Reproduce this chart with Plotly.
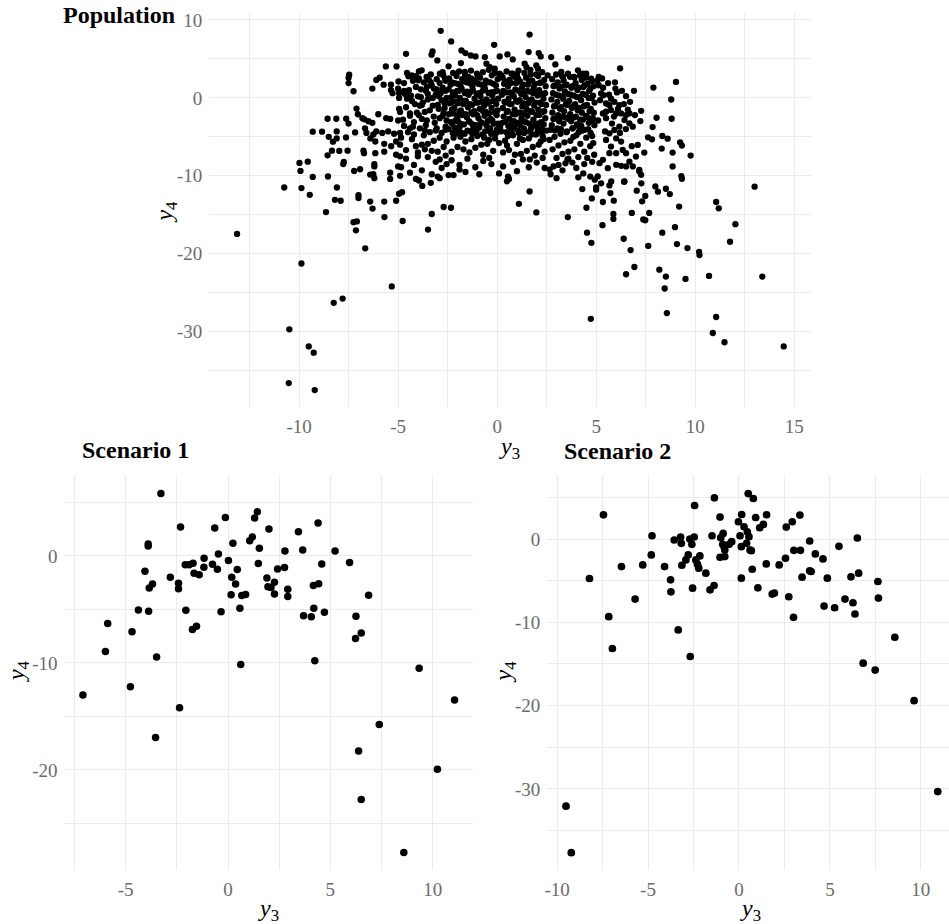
import plotly.graph_objects as go

# ---------------- Population (y3, y4) ----------------
pop_y3 = [
    -13.13, -10.75, -9.98, -9.56, -9.93, -9.31, -9.88, -9.46, -9.31, -8.84,
    -8.56, -8.12, -8.54, -8.56, -8.64, -8.19, -7.9, -8.09, -8.34, -7.97,
    -8.29, -8.1, -8.1, -8.5, -9.88, -10.49, -9.51, -9.26, -10.52, -9.21,
    -8.25, -7.8, -5.32, -6.66, -7.13, -7.25, -7.08, -6.29, -5.69, -4.77,
    -3.49, -3.3, -2.7, -2.33, -6.41, -5.7, -5.1, -7.0, -7.0, -7.47,
    -7.5, -7.5, -6.1, -5.93, -4.98, -5.73, -5.36, -6.3, -7.25, -5.36,
    -5.28, -4.95, -5.0, -4.95, -7.1, -4.95, -4.9, -7.03, -6.0, -7.62,
    -6.8, -6.7, -6.5, -6.3, -5.6, -5.4, -5.0, -7.5, -7.17, -6.67,
    -6.6, -6.25, -6.1, -5.8, -5.5, -5.2, -4.9, -7.63, -6.4, -6.15,
    -5.7, -5.35, -5.1, -4.9, -7.55, -6.75, -6.72, -6.15, -5.7, -5.1,
    -4.9, -7.74, -7.77, -6.2, -6.2, -7.22, -6.92, -5.0, -4.85, -6.41,
    -6.25, -6.2, -5.4, -5.4, -4.9, -4.95, -5.62, -5.08, -4.6, -2.85,
    -2.32, -3.26, -3.31, -3.02, -1.8, -1.6, -1.33, -1.09, -0.62, -0.15,
    0.13, 0.52, 0.79, 1.64, 1.59, 2.1, 2.2, 2.73, 2.94, 3.57,
    -2.45, -3.81, -4.48, -4.31, -1.83, -0.54, -0.37, -0.12, 1.39, 1.48,
    1.98, 2.06, 3.24, 3.32, 4.08, 4.33, 4.5, 4.75, -2.72, -2.63,
    -2.89, -3.56, -3.98, -0.96, 0.22, 0.72, 1.06, -1.63, -1.29, -3.78,
    -3.35, -3.0, -2.9, -4.8, -4.1, -3.95, -2.45, -2.2, -1.9, -0.29,
    0.55, 0.6, 0.5, 1.1, 1.64, 1.98, 3.57, 4.51, 4.54, 4.3,
    4.35, 4.7, 4.93, 4.78, 5.0, 1.6, 1.65, 0.8, 2.4, 2.65,
    2.85, 3.1, 3.45, 3.6, 4.73, 4.76, 6.21, 7.89, 9.03, 8.79,
    8.81, 8.05, 7.85, 6.91, 6.51, 6.71, 7.27, 7.23, 6.96, 7.62,
    7.82, 8.34, 8.61, 8.31, 8.86, 9.24, 9.33, 9.77, 8.86, 9.3,
    9.33, 13.0, 11.06, 11.19, 7.32, 7.48, 7.05, 7.99, 8.12, 8.52,
    8.72, 7.28, 6.41, 5.72, 5.25, 5.67, 5.34, 5.89, 6.8, 7.68,
    7.38, 7.48, 5.87, 5.87, 5.32, 6.39, 6.74, 7.63, 8.34, 8.98,
    9.19, 9.08, 9.61, 6.93, 6.51, 8.19, 8.52, 8.46, 8.57, 9.51,
    10.7, 10.2, 10.22, 11.76, 12.03, 13.39, 11.06, 10.89, 11.48, 14.47,
    5.13, 5.13, 5.25, 5.37, 5.5, 5.67, 5.92, 6.17, 5.75, 5.5,
    5.34, 6.01, 6.26, 6.51, 6.68, 6.43, 6.68, 6.85, 6.17, 5.92,
    5.67, 5.5, 6.01, 6.26, 5.75, 6.01, 6.34, 6.51, 5.67, 5.34,
    5.17, 6.01, 6.26, 6.51, 6.85, 7.01, 7.18, 7.27, 6.68, 5.59,
    5.76, 6.43, 5.08, 5.0, 5.97, 7.1, 7.43, 7.18, 6.8,
    -4.7, -4.5, -4.3, -4.6, -4.4, -4.1, -4.0, -3.9, -3.8, -3.7,
    -3.6, -3.5, -3.4, -3.3, -3.2, -3.1, -3.0, -2.9, -2.8, -2.7,
    -2.6, -2.55, -4.2, -3.95, -3.45, -3.05, -2.75, -4.55, -3.75, -3.25,
    -2.95, -2.65, -4.05, -3.55, -3.15, -4.75, -4.35, -3.85, -2.85, -2.6,
    -4.7, -4.5, -4.3, -4.1, -3.9, -3.7, -3.5, -3.3, -3.1, -2.9,
    -2.7, -2.6, -4.6, -4.0, -3.6, -3.2, -2.8, -4.4, -3.8, -3.0,
    -4.2, -2.55, -3.4, -4.85, -3.65,
    -4.6, -4.2, -3.8, -3.5, -3.1, -2.8, -2.6, -4.4, -3.3, -2.9,
    -4.0, -2.55,
    -2.42, -2.35, -2.45, -2.31, -2.4, -2.28, -2.44, -2.33,
    -2.05, -2.14, -2.02, -2.12, -2.08, -2.16, -2.0, -2.1,
    -1.76, -1.85, -1.79, -1.88, -1.72, -1.83, -1.77, -1.86,
    -1.45, -1.55, -1.52, -1.44, -1.58, -1.47, -1.53, -1.42,
    -1.18, -1.25, -1.22, -1.14, -1.27, -1.16, -1.21, -1.24,
    -0.86, -0.95, -0.92, -0.84, -0.97, -0.88, -0.94, -0.83,
    -0.57, -0.64, -0.61, -0.55, -0.66, -0.58, -0.63, -0.54,
    -0.27, -0.35, -0.31, -0.25, -0.36, -0.28, -0.33, -0.24,
    0.03, -0.06, 0.0, 0.05, -0.04, 0.02, -0.02, 0.04,
    -2.45, -2.2, -2.0, -1.8, -1.6, -1.4, -1.2, -1.0, -0.8, -0.6,
    -0.4, -0.2, 0.0, -2.3, -1.9, -1.5, -1.1, -0.7, -0.3, -2.1,
    -1.3, -0.5, -0.1, -1.7, -0.9,
    -2.3, -1.9, -1.5, -1.1, -0.7, -0.4, -1.6, -0.9,
    0.28, 0.35, 0.31, 0.24, 0.37, 0.29, 0.33, 0.26,
    0.62, 0.55, 0.66, 0.58, 0.64, 0.54, 0.61, 0.57,
    0.87, 0.95, 0.92, 0.84, 0.96, 0.88, 0.93, 0.85,
    1.16, 1.25, 1.22, 1.14, 1.27, 1.18, 1.23, 1.15,
    1.46, 1.55, 1.52, 1.44, 1.57, 1.48, 1.53, 1.45,
    1.77, 1.85, 1.82, 1.74, 1.87, 1.78, 1.83, 1.75,
    2.07, 2.15, 2.12, 2.04, 2.17, 2.08, 2.13, 2.05,
    2.38, 2.45, 2.42, 2.34, 2.47, 2.38, 2.43, 2.35,
    0.12, 0.15, 1.0, 1.7, 2.55, 0.75, 1.35, 2.25,
    0.2, 0.4, 0.6, 0.8, 1.0, 1.2, 1.4, 1.6, 1.8, 2.0,
    2.2, 2.4, 2.5, 0.3, 0.7, 1.1, 1.5, 1.9, 2.3, 0.5,
    0.9, 1.3, 1.7, 2.1, 0.1,
    0.3, 1.0, 1.3, 2.0, 2.3, 0.1,
    2.78, 2.85, 2.82, 2.74, 2.87, 2.79, 2.84, 2.76,
    3.06, 3.15, 3.12, 3.04, 3.17, 3.08, 3.13,
    3.36, 3.45, 3.42, 3.34, 3.47, 3.38, 3.43, 3.35,
    3.68, 3.75, 3.72, 3.64, 3.77, 3.69, 3.74,
    3.96, 4.05, 4.02, 3.94, 4.07, 3.98, 4.03,
    4.27, 4.35, 4.32, 4.24, 4.37, 4.28, 4.33, 4.25,
    4.56, 4.65, 4.62, 4.54, 4.67, 4.58, 4.63,
    4.87, 4.84, 4.92, 4.88, 4.83, 4.91, 3.9, 4.45,
    2.7, 2.9, 3.1, 3.3, 3.5, 3.7, 3.9, 4.1, 4.3, 4.5,
    4.7, 4.9, 2.8, 3.0, 3.2, 3.4, 3.6, 3.8, 4.0, 4.2,
    4.4, 4.6, 4.8, 2.65, 3.05, 3.55, 4.15, 4.55, 4.85, 3.85,
    2.7, 3.3, 3.8, 4.0, 4.4, 4.8, 3.0, 4.1,
    -2.22, -2.29, -2.23, -2.27, -2.21, -2.28, -2.24,
    -1.92, -1.99, -1.93, -1.97, -1.91, -1.98, -1.94,
    -1.62, -1.69, -1.63, -1.67, -1.61, -1.68, -1.64,
    -1.32, -1.39, -1.33, -1.37, -1.31, -1.38, -1.34,
    -1.02, -1.09, -1.03, -1.07, -1.01, -1.08, -1.04,
    -0.72, -0.79, -0.73, -0.77, -0.71, -0.78, -0.74,
    -0.42, -0.49, -0.43, -0.47, -0.41, -0.48, -0.44,
    -0.12, -0.19, -0.13, -0.17, -0.11, -0.18, -0.14,
    0.48, 0.41, 0.47, 0.43, 0.49, 0.42, 0.46,
    0.78, 0.71, 0.77, 0.73, 0.79, 0.72, 0.76,
    1.08, 1.01, 1.07, 1.03, 1.09, 1.02, 1.06,
    1.38, 1.31, 1.37, 1.33, 1.39, 1.32, 1.36,
    1.68, 1.61, 1.67, 1.63, 1.69, 1.62, 1.66,
    1.98, 1.91, 1.97, 1.93, 1.99, 1.92, 1.96,
    2.28, 2.21, 2.27, 2.23, 2.29, 2.22, 2.26,
    2.98, 2.91, 2.97, 2.93, 2.99, 2.92,
    3.28, 3.21, 3.27, 3.23, 3.29, 3.22,
    3.58, 3.51, 3.57, 3.53, 3.59, 3.52,
    3.88, 3.81, 3.87, 3.83, 3.89, 3.82,
    4.18, 4.11, 4.17, 4.13, 4.19, 4.12,
    4.48, 4.41, 4.47, 4.43, 4.49, 4.42,
    4.78, 4.71, 4.77, 4.73, 4.79, 4.72,
    -4.45, -4.15, -3.85, -3.55, -3.25, -2.95, -2.65, -4.25, -3.65, -3.35,
    -3.05, -2.75, -4.65, -3.95, -2.55,
    -1.85, -1.25, -0.65, -0.05, 0.55, 1.15, 1.75, 2.35, -2.15, -0.35,
    0.85, 2.05,
    -4.55, -4.25, -3.95, -3.65, -3.35, -3.05, -2.75, -4.4, -3.8, -3.2,
    -2.6, -4.1, -3.5, -2.9, -4.7,
    5.05, 5.2, 5.35, 5.5, 5.65, 5.8, 5.95, 6.1, 6.3, 6.5,
    5.1, 5.3, 5.45, 5.6, 5.75, 5.9, 6.05, 6.2, 6.4, 6.6,
]
pop_y4 = [
    -17.46, -11.5, -8.35, -8.18, -9.37, -10.14, -11.58, -12.44, -4.34, -4.34,
    -2.68, -2.68, -10.09, -7.37, -14.65, -13.08, -13.2, -11.5, -6.77, -6.81,
    -5.62, -5.2, -4.3, -5.0, -21.25, -29.7, -31.9, -32.7, -36.6, -37.5,
    -26.3, -25.76, -24.2, -19.3, -17.0, -15.95, -15.85, -14.2, -15.3, -15.8,
    -16.9, -14.9, -14.0, -14.1, -13.3, -13.3, -13.2, -12.48, -12.86, 2.97,
    2.6, 1.9, 2.3, 2.6, 2.1, 1.7, 1.7, 1.2, 0.85, 1.0,
    0.6, 0.6, 1.2, 0.0, -1.37, -1.4, -1.8, -2.1, -2.1, -2.68,
    -2.6, -2.75, -3.0, -3.2, -2.6, -2.7, -2.9, -3.3, -4.43, -3.9,
    -4.5, -4.7, -4.3, -4.5, -4.3, -4.6, -4.5, -5.07, -5.2, -5.6,
    -5.9, -6.2, -5.6, -6.0, -6.77, -6.77, -7.1, -7.1, -6.9, -7.3,
    -7.5, -8.22, -8.5, -8.5, -8.8, -9.37, -9.16, -8.8, -8.9, -9.84,
    -9.8, -10.3, -9.6, -10.4, -10.0, -12.3, 4.04, 4.04, 5.66, 8.6,
    7.24, 5.96, 5.54, 4.81, 6.09, 5.75, 5.45, 5.32, 5.24, 6.81,
    5.32, 5.58, 4.94, 8.13, 5.88, 5.75, 5.32, 5.24, 4.3, 5.11,
    4.05, 3.54, 2.77, 2.9, 4.47, 4.39, 3.96, 3.75, 4.39, 3.96,
    4.17, 3.75, 3.32, 2.69, 3.54, 3.11, 3.11, 2.47, 2.9, 2.47,
    3.11, 2.69, 2.26, 2.69, 2.9, 3.11, 2.47, 3.32, 2.47, -11.3,
    -10.9, -10.1, -10.3, -12.1, -10.4, -10.6, -9.9, -9.9, -9.2, -8.5,
    -10.1, -10.4, -10.7, -13.6, -12.0, -14.7, -15.3, -14.1, -17.3, -11.7,
    -9.7, -10.1, -10.5, -12.9, -11.5, -8.9, -7.9, -8.2, -9.0, -9.2,
    -8.8, -8.6, -8.4, -7.8, -28.35, -18.6, 3.79, 1.32, 2.05, -0.21,
    -2.68, -2.55, -3.74, 0.9, 0.22, -0.51, -1.66, -2.97, -2.21, -5.06,
    -5.32, -4.89, -5.23, -6.51, -7.02, -5.7, -6.12, -7.4, -8.8, -10.04,
    -10.38, -11.4, -13.36, -14.17, -13.27, -12.59, -11.91, -11.36, -12.04, -11.66,
    -12.34, -10.97, -10.76, -12.21, -10.97, -11.23, -13.36, -13.19, -14.76, -14.76,
    -15.6, -15.7, -14.89, -15.53, -16.34, -18.08, -19.53, -19.0, -17.3, -16.59,
    -13.95, -18.76, -19.27, -21.7, -22.63, -22.04, -22.93, -24.46, -27.61, -23.23,
    -22.85, -19.78, -20.17, -18.46, -16.21, -22.93, -28.12, -30.17, -31.36, -31.9,
    2.69, 1.62, 0.56, 0.34, -0.72, -0.93, -0.51, -0.93, -1.57, -1.78,
    -1.99, -1.99, -1.99, -2.21, -1.99, -2.85, -3.27, -3.7, -3.7, -4.12,
    -4.55, -5.4, -5.19, -5.61, -6.25, -7.1, -6.68, -7.1, -7.1, -7.95,
    -8.38, -8.59, -8.72, -8.8, -8.8, -7.53, -9.44, -9.87, -8.17, -9.02,
    -10.72, -10.72, -10.08, -11.78, 1.2, -6.04, -7.02, -9.24, -6.2,
    1.9, 0.8, -0.4, -1.2, -2.3, 1.4, 0.2, -1.0, -2.7, 2.0,
    0.9, -0.2, -1.6, 1.6, -2.4, 0.4, -0.9, 1.9, -0.3, -1.9,
    0.9, -2.9, -3.1, 2.5, 2.3, 2.4, 1.3, -0.1, -0.6, 0.0,
    -1.4, -0.7, -1.9, -2.9, -3.2, -2.8, 0.3, 1.1, 0.6, 2.2,
    -3.6, -4.4, -5.3, -6.2, -3.9, -4.8, -5.9, -6.8, -4.2, -5.1,
    -6.3, -3.7, -6.7, -7.0, -3.5, -5.5, -4.5, -3.9, -6.0, -6.9,
    -4.7, -5.6, -4.4, -5.1, -6.6,
    -7.8, -8.6, -9.3, -7.6, -8.2, -9.0, -7.4, -9.6, -9.8, -7.9,
    -7.5, -8.5,
    2.5, 1.7, 1.1, 0.1, -0.7, -1.5, -2.1, -3.1,
    2.8, 1.9, 0.9, 0.3, -0.5, -1.3, -2.4, -2.9,
    2.4, 1.6, 1.2, 0.0, -0.8, -1.6, -2.2, -3.3,
    2.7, 2.0, 0.8, 0.4, -0.4, -1.2, -2.5, -3.0,
    2.3, 1.5, 1.0, -0.1, -0.9, -1.7, -2.1, -3.4,
    2.6, 1.8, 0.6, 0.2, -0.6, -1.4, -2.6, -3.1,
    2.2, 1.4, 1.1, -0.2, -1.0, -1.8, -2.3, -3.5,
    2.9, 2.0, 0.7, 0.3, -0.5, -1.3, -2.7, -2.9,
    2.4, 1.6, 0.9, -0.1, -0.8, -1.6, -2.2, -3.3,
    -4.0, -5.1, -6.3, -4.5, -5.6, -7.0, -3.9, -4.9, -6.0, -4.3,
    -5.4, -6.8, -4.0, -6.9, -3.8, -4.2, -6.4, -7.3, -4.6, -4.6,
    -5.3, -5.9, -5.2, -6.6, -3.8,
    -8.0, -8.6, -7.8, -8.9, -8.1, -7.7, -9.5, -9.8,
    2.6, 1.8, 0.9, 0.4, -0.5, -1.3, -2.4, -3.2,
    2.3, 1.5, 0.7, -0.1, -0.8, -1.7, -2.7, -3.6,
    2.7, 1.9, 1.1, 0.2, -0.4, -1.5, -2.1, -3.0,
    2.1, 1.3, 0.5, -0.3, -1.1, -1.9, -2.6, -3.5,
    2.6, 1.7, 0.9, 0.1, -0.7, -1.4, -2.3, -3.1,
    2.2, 1.4, 0.6, -0.2, -1.0, -1.8, -2.8, -3.7,
    2.8, 1.9, 1.0, 0.3, -0.6, -1.5, -2.2, -3.3,
    2.3, 1.5, 0.6, -0.1, -0.9, -1.7, -2.6, -3.4,
    3.1, -3.8, 3.0, 3.0, 2.9, -3.9, -3.9, -3.9,
    -4.3, -5.5, -6.7, -4.8, -5.9, -7.2, -4.4, -5.2, -6.3, -4.6,
    -5.6, -6.9, -4.2, -7.0, -4.1, -4.5, -6.8, -7.4, -4.9, -6.1,
    -7.3, -5.4, -4.0, -6.0, -5.8,
    -8.8, -9.4, -7.9, -8.3, -7.7, -9.7,
    2.4, 1.5, 0.6, -0.2, -1.1, -1.9, -2.7, -3.5,
    2.0, 1.2, 0.3, -0.5, -1.4, -2.2, -3.0,
    2.2, 1.6, 0.8, -0.1, -0.8, -1.7, -2.5, -3.3,
    2.7, 1.3, 0.4, -0.4, -1.3, -2.1, -3.0,
    1.9, 1.0, 0.1, -0.8, -1.6, -2.4, -3.4,
    2.3, 1.4, 0.5, -0.3, -1.1, -1.9, -2.8, -3.6,
    1.8, 0.9, 0.0, -0.9, -1.7, -2.5, -3.2,
    1.5, 0.3, -0.6, -1.9, -2.6, -3.5, 2.6, 2.7,
    -4.1, -5.0, -6.1, -7.2, -4.4, -5.5, -6.6, -7.6, -4.2, -5.1,
    -6.2, -7.3, -6.6, -7.7, -4.6, -5.7, -6.9, -3.9, -4.8, -5.9,
    -6.9, -4.0, -4.9, -5.4, -3.9, -7.9, -3.8, -7.7, -5.8, -5.0,
    -9.8, -9.3, -8.3, -9.0, -8.5, -8.2, -10.3, -10.2,
    3.2, 2.0, 0.7, -0.5, -2.0, -3.3, -4.5,
    3.4, 1.8, 0.9, -0.7, -1.8, -3.0, -4.2,
    3.0, 2.2, 0.6, -0.4, -2.1, -3.4, -4.6,
    3.5, 1.9, 0.8, -0.8, -1.9, -3.1, -4.3,
    3.1, 2.1, 0.5, -0.6, -2.2, -3.5, -4.4,
    3.3, 1.7, 0.9, -0.5, -1.7, -3.2, -4.7,
    3.6, 2.0, 0.6, -0.7, -2.0, -3.0, -4.1,
    3.2, 1.8, 0.8, -0.4, -1.9, -3.3, -4.5,
    3.4, 2.1, 0.7, -0.6, -1.8, -3.1, -4.4,
    3.1, 1.9, 0.5, -0.8, -2.1, -3.4, -4.6,
    3.5, 2.0, 0.9, -0.5, -1.9, -3.2, -4.2,
    3.2, 1.7, 0.6, -0.7, -2.0, -3.0, -4.5,
    3.6, 2.2, 0.8, -0.4, -1.7, -3.3, -4.3,
    3.0, 1.8, 0.7, -0.6, -2.2, -3.5, -4.7,
    3.3, 2.0, 0.5, -0.8, -1.8, -3.1, -4.4,
    3.0, 1.6, 0.4, -1.0, -2.6, -4.2,
    2.8, 1.4, 0.2, -1.2, -2.4, -4.0,
    3.1, 1.7, 0.5, -0.9, -2.7, -4.3,
    2.7, 1.5, 0.3, -1.1, -2.5, -3.9,
    2.9, 1.3, 0.1, -1.3, -2.8, -4.4,
    2.6, 1.6, 0.4, -1.0, -2.3, -4.1,
    2.2, 1.2, 0.0, -1.4, -2.9, -4.5,
    1.0, -0.8, 0.1, 1.4, -1.0, 0.2, -1.3, 2.2, -1.8, 2.0,
    1.1, -2.3, 0.5, -2.2, 0.0,
    -5.0, -4.6, -5.1, -4.5, -4.9, -5.2, -4.7, -5.3, -3.8, -3.9,
    -3.8, -4.0,
    3.2, -3.7, 3.4, -4.2, 3.0, -3.9, 3.3, -2.0, -0.9, 1.2,
    -4.1, 2.8, 0.5, -2.6, 0.9,
    2.2, -0.3, 1.3, -2.6, 0.4, -3.3, 2.0, -1.4, 0.9, -4.0,
    -2.9, 2.5, -4.3, 1.9, -0.1, -2.4, 0.7, -4.5, -0.8, -1.5,
]

# ---------------- Scenario 1 ----------------
s1_y3 = [
    -3.28, -5.88, -5.99, -4.69, -3.49, -4.38, -3.88, -4.06, -3.9, -3.9,
    -3.85, -3.69, -2.82, -2.42, -2.42, -2.32, -2.06, -2.09, -1.9, -1.71,
    -1.66, -1.41, -1.74, -1.54, -1.17, -1.18, -0.76, -0.52, -0.65, -0.47,
    -0.34, -0.13, 0.02, 0.18, 0.24, 0.37, 0.45, 0.15, 0.58, 0.62,
    0.67, 0.86, 1.06, 1.19, 1.3, 1.43, 1.53, 1.48, 2.0, 1.9,
    1.95, 2.1, 2.27, 2.27, 2.42, 2.78, 2.76, 2.92, 2.92, 3.44,
    3.65, 3.69, 4.07, 4.19, 4.17, 4.43, 4.4, 4.58, 4.24, 4.71,
    5.23, 5.94, 6.25, 6.23, 6.51, 6.87, 9.34, -7.09, -4.77, -2.37,
    -3.54, 11.07, 7.39, 6.38, 10.23, 6.51, 8.59,
]
s1_y4 = [
    5.82, -6.33, -8.94, -7.08, -9.46, -5.06, -5.18, -1.43, 1.11, 0.92,
    -3.01, -2.64, -1.99, -2.55, -3.08, 2.69, -5.09, -0.84, -0.84, -0.69,
    -1.62, -1.77, -6.89, -6.58, -0.22, -1.06, -0.78, -1.25, 2.6, 0.18,
    -5.22, 3.59, -0.44, -1.99, 1.17, -2.64, -1.28, -3.63, -4.9, -10.15,
    -3.7, -3.6, 1.42, 1.76, 3.53, 4.12, 0.71, -0.72, 2.51, -2.08,
    -2.88, -2.95, -2.46, -3.57, -1.22, 0.46, -1.09, -3.11, -3.79, 2.26,
    0.55, -5.59, -5.68, -4.9, -2.77, -2.61, 3.06, -0.75, -9.8, -5.28,
    0.46, -0.63, -5.65, -7.73, -7.2, -3.67, -10.49, -12.99, -12.22, -14.2,
    -16.96, -13.46, -15.75, -18.23, -19.94, -22.76, -27.72,
]

# ---------------- Scenario 2 ----------------
s2_y3 = [
    -8.22, -7.45, -7.16, -6.96, -6.46, -5.71, -5.29, -4.82, -4.78, -4.09,
    -3.76, -3.74, -3.56, -3.34, -3.21, -3.17, -3.14, -2.92, -2.79, -2.7,
    -2.59, -2.46, -2.55, -2.68, -2.44, -2.37, -2.28, -2.15, -2.21, -1.82,
    -1.59, -1.37, -1.48, -1.35, -1.04, -1.0, -0.87, -0.89, -0.82, -1.04,
    -0.78, -0.78, -0.4, -0.54, -0.03, 0.15, 0.06, 0.13, 0.13, 0.28,
    0.46, 0.55, 0.42, 0.61, 0.68, 0.51, 0.79, 0.92, 0.73, 1.04,
    1.14, 1.34, 1.52, 1.5, 1.83, 1.95, 2.21, 2.56, 2.6, 2.93,
    2.74, 3.0, 3.02, 3.38, 3.35, 3.47, 3.89, 3.89, 3.97, 4.2,
    4.62, 4.86, 4.68, 5.26, 5.5, 5.83, 6.16, 6.27, 6.38, 6.51,
    6.58, 6.83, 7.49, 7.64, 7.67, 8.57, -9.51, -9.22, 9.63, 10.93,
]
s2_y4 = [
    -4.74, 2.9, -9.32, -13.14, -3.31, -7.21, -3.11, -1.91, 0.39, -3.31,
    -4.9, -6.34, -0.12, -10.91, 0.24, -0.52, -3.15, -2.51, -1.91, 0.0,
    -0.64, 0.24, -5.9, -14.1, 4.02, -2.51, -3.03, -2.03, -3.5, -4.1,
    -6.1, -5.58, 0.39, 4.94, 2.63, 0.16, 0.67, -0.64, -0.92, -2.19,
    -2.11, -1.32, -0.32, -0.64, 2.07, 2.94, 0.39, -0.92, -4.7, 1.47,
    0.87, 0.28, -0.52, -1.32, -1.4, 5.45, 4.86, 2.58, -3.63, -5.86,
    1.35, 1.75, 2.91, -2.99, -6.61, -6.49, -3.11, -2.31, 1.43, 2.07,
    -6.93, -9.4, -1.36, -1.36, 2.87, -4.58, -0.24, -3.82, -3.9, -1.79,
    -2.39, -4.7, -8.05, -8.25, -0.88, -7.21, -4.54, -7.65, -9.0, 0.12,
    -4.1, -14.9, -15.73, -5.1, -7.09, -11.79, -32.06, -37.64, -19.4, -30.31,
]

# ---------------- tick values ----------------
pop_x_ticks = [-10, -5, 0, 5, 10, 15]
pop_y_ticks = [-30, -20, -10, 0, 10]
s1_x_ticks = [-5, 0, 5, 10]
s1_y_ticks = [-20, -10, 0]
s2_x_ticks = [-10, -5, 0, 5, 10]
s2_y_ticks = [-30, -20, -10, 0]

assert len(pop_y3) == len(pop_y4), (len(pop_y3), len(pop_y4))
assert len(s1_y3) == len(s1_y4)
assert len(s2_y3) == len(s2_y4)

W, H = 949, 924
FONT = "Liberation Serif"
GRID = "#EBEBEB"
TICKFONT = dict(family=FONT, size=19, color="#6b6b6b")


def minor_vals(ticks, rng):
    step = ticks[1] - ticks[0]
    vals = []
    v = ticks[0] - step * 3
    while v <= rng[1] + step:
        m = v + step / 2.0
        if rng[0] <= m <= rng[1]:
            vals.append(m)
        v += step
    return vals


def axis(domain, rng, ticks, anchor):
    return dict(
        domain=domain, range=rng, anchor=anchor,
        tickmode="array", tickvals=ticks, ticktext=[str(t) for t in ticks],
        showgrid=True, gridcolor=GRID, gridwidth=1.1,
        zeroline=False, showline=False, ticks="",
        tickfont=TICKFONT, ticklabelstandoff=6,
        minor=dict(tickmode="array", tickvals=minor_vals(ticks, rng),
                   showgrid=True, gridcolor=GRID, gridwidth=0.6, ticks=""),
        fixedrange=True,
    )


def px(v):
    return v / W


def py(v):
    return 1 - v / H


fig = go.Figure()
fig.add_trace(go.Scatter(x=pop_y3, y=pop_y4, mode="markers", xaxis="x", yaxis="y",
                         marker=dict(color="black", size=6.3), hoverinfo="skip"))
fig.add_trace(go.Scatter(x=s1_y3, y=s1_y4, mode="markers", xaxis="x2", yaxis="y2",
                         marker=dict(color="black", size=7.5), hoverinfo="skip"))
fig.add_trace(go.Scatter(x=s2_y3, y=s2_y4, mode="markers", xaxis="x3", yaxis="y3",
                         marker=dict(color="black", size=7.7), hoverinfo="skip"))

ytitle = "<i>y</i><sub>4</sub>"
xtitle = "<i>y</i><sub>3</sub>"
TFONT = dict(family=FONT, size=24, color="black")
AFONT = dict(family=FONT, size=24, color="black")

annotations = [
    dict(text="<b>Population</b>", x=px(58), y=py(11), xanchor="left", yanchor="middle", font=TFONT),
    dict(text="<b>Scenario 1</b>", x=px(77), y=py(448), xanchor="left", yanchor="middle", font=TFONT),
    dict(text="<b>Scenario 2</b>", x=px(561), y=py(449), xanchor="left", yanchor="middle", font=TFONT),
    dict(text=xtitle, x=px(508), y=py(446), xanchor="center", yanchor="middle", font=AFONT),
    dict(text=ytitle, x=px(164), y=py(208), xanchor="center", yanchor="middle", textangle=-90, font=AFONT),
    dict(text=xtitle, x=px(266), y=py(910), xanchor="center", yanchor="middle", font=AFONT),
    dict(text=ytitle, x=px(15), y=py(670), xanchor="center", yanchor="middle", textangle=-90, font=AFONT),
    dict(text=xtitle, x=px(750), y=py(910), xanchor="center", yanchor="middle", font=AFONT),
    dict(text=ytitle, x=px(504), y=py(670), xanchor="center", yanchor="middle", textangle=-90, font=AFONT),
]
for a in annotations:
    a.update(xref="paper", yref="paper", showarrow=False)

fig.update_layout(
    width=W, height=H,
    margin=dict(l=0, r=0, t=0, b=0),
    paper_bgcolor="white", plot_bgcolor="white",
    showlegend=False,
    xaxis=axis([px(207), px(811)], [-14.53, 15.87], pop_x_ticks, "y"),
    yaxis=axis([py(405), py(9.3)], [-39.7, 10.86], pop_y_ticks, "x"),
    xaxis2=axis([px(61.7), px(471.7)], [-7.99, 11.98], s1_x_ticks, "y2"),
    yaxis2=axis([py(870), py(473.3)], [-29.37, 7.53], s1_y_ticks, "x2"),
    xaxis3=axis([px(546), 1.0], [-10.54, 11.55], s2_x_ticks, "y3"),
    yaxis3=axis([py(870), py(473.3)], [-39.75, 7.65], s2_y_ticks, "x3"),
    annotations=annotations,
)

fig.write_html("out.html")
